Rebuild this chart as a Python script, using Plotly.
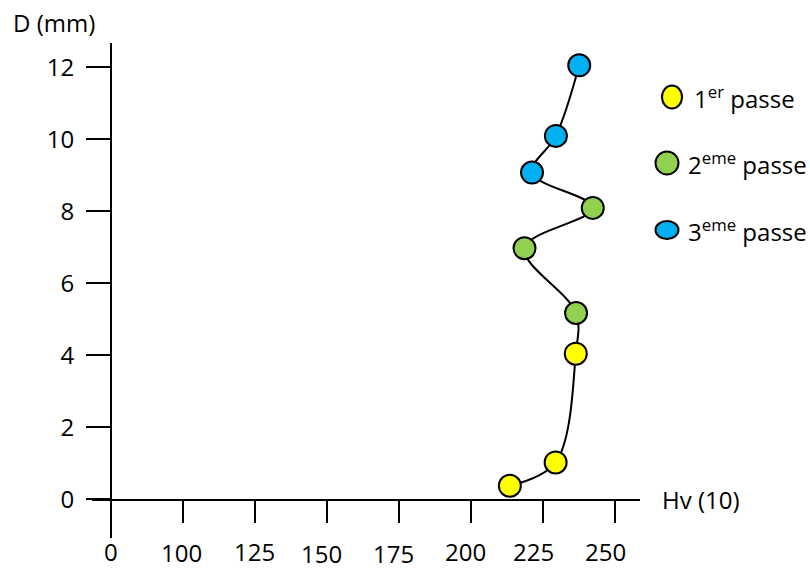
import plotly.graph_objects as go

# Hardness profile (Hv) against depth D (mm) for the three weld passes
hv_pass1 = [213.5, 229.4, 236.4]
d_pass1 = [0.38, 1.03, 4.05]
hv_pass2 = [236.5, 218.6, 242.3]
d_pass2 = [5.18, 6.98, 8.10]
hv_pass3 = [221.2, 229.5, 237.6]
d_pass3 = [9.08, 10.10, 12.06]

pass_names = ["1<sup>er</sup> passe", "2<sup>eme</sup> passe", "3<sup>eme</sup> passe"]
pass_colors = ["#FFFF00", "#92D050", "#00B0F0"]

# The first tick stands in for the origin of a broken Hv axis
x_tick_values = [75, 100, 125, 150, 175, 200, 225, 250]
x_tick_labels = ["0", "100", "125", "150", "175", "200", "225", "250"]
y_tick_values = [0, 2, 4, 6, 8, 10, 12]

# per-label nudges (px) for the staggered Hv tick labels
x_label_shift = [0, -2, 0, -5, -5, -5, -9, -9]
y_label_shift = [-52, -53, -52, -54, -54, -52, -52, -52]

# hand-drawn key: marker centre, marker size and text start, in pixels
key_marker_xy = [(672, 97), (667, 163), (667, 230)]
key_marker_wh = [(20, 23), (23, 23), (23, 18)]
key_text_x = [692, 686, 686]

FONT = "Open Sans"
W, H = 810, 568
L, R, T, B = 92, 170, 43, 30
plot_w = W - L - R
plot_h = H - T - B


def px_x(px):
    return (px - L) / plot_w


def px_y(py):
    return 1 - (py - T) / plot_h


fig = go.Figure()

all_hv = hv_pass1 + hv_pass2 + hv_pass3
all_d = d_pass1 + d_pass2 + d_pass3
fig.add_trace(go.Scatter(
    x=all_hv, y=all_d, mode="lines",
    line=dict(color="black", width=2, shape="spline", smoothing=1),
    showlegend=False, hoverinfo="skip",
))

for name, color, xs, ys in zip(pass_names, pass_colors,
                               [hv_pass1, hv_pass2, hv_pass3],
                               [d_pass1, d_pass2, d_pass3]):
    fig.add_trace(go.Scatter(
        x=xs, y=ys, mode="markers", name=name, showlegend=False,
        marker=dict(size=22, color=color, line=dict(color="black", width=2)),
    ))

# staggered Hv tick labels
for v, lab, dx, dy in zip(x_tick_values, x_tick_labels, x_label_shift, y_label_shift):
    fig.add_annotation(x=v, y=0, xref="x", yref="y", text=lab, showarrow=False,
                       xshift=dx, yshift=dy, xanchor="center", yanchor="middle",
                       height=22, valign="middle",
                       font=dict(family=FONT, size=24, color="black"))

# key on the right
for name, color, (cx, cy), (w, h), tx in zip(pass_names, pass_colors, key_marker_xy,
                                             key_marker_wh, key_text_x):
    fig.add_shape(type="circle", xref="paper", yref="paper",
                  xsizemode="pixel", ysizemode="pixel",
                  xanchor=px_x(cx), yanchor=px_y(cy),
                  x0=-w / 2, x1=w / 2, y0=-h / 2, y1=h / 2,
                  fillcolor=color, line=dict(color="black", width=2), layer="above")
    fig.add_annotation(x=px_x(tx), y=px_y(cy), xref="paper", yref="paper",
                       text=name, showarrow=False, xanchor="left", yanchor="middle",
                       font=dict(family=FONT, size=24, color="black"))

fig.add_annotation(x=px_x(11), y=px_y(23), xref="paper", yref="paper",
                   text="D (mm)", showarrow=False, xanchor="left", yanchor="middle",
                   font=dict(family=FONT, size=24, color="black"))
fig.add_annotation(x=px_x(660), y=0, xref="paper", yref="y",
                   text="Hv (10)", showarrow=False, xanchor="left", yanchor="middle",
                   font=dict(family=FONT, size=24, color="black"))

fig.update_layout(
    width=W, height=H,
    margin=dict(l=L, r=R, t=T, b=B, autoexpand=False),
    paper_bgcolor="white", plot_bgcolor="white",
    font=dict(family=FONT, size=24, color="black"),
    showlegend=False,
    xaxis=dict(
        range=[68.4, 258.7], anchor="free", position=(538 - 500) / plot_h,
        showline=True, linecolor="black", linewidth=2,
        ticks="outside", ticklen=22, tickwidth=2, tickcolor="black",
        tickvals=x_tick_values, showticklabels=False,
        showgrid=False, zeroline=False,
    ),
    yaxis=dict(
        range=[-1.07, 12.68], anchor="free", position=(111 - L) / plot_w,
        showline=True, linecolor="black", linewidth=2,
        ticks="outside", ticklen=24, tickwidth=2, tickcolor="black",
        tickvals=y_tick_values, ticklabelstandoff=7,
        tickfont=dict(family=FONT, size=24, color="black"),
        showgrid=False, zeroline=False,
    ),
)

fig.write_html("out.html")
